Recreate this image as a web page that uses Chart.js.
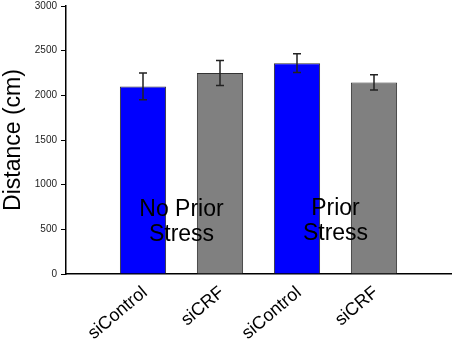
<!DOCTYPE html>
<html>
<head>
<meta charset="utf-8">
<script src="https://cdn.jsdelivr.net/npm/chart.js@4"></script>
<style>
    html, body { margin: 0; padding: 0; background: #fff; }
    #wrap { width: 454px; height: 345px; }
</style>
</head>
<body>
<div id="wrap"><canvas id="chart" width="454" height="345"></canvas></div>
<script>
// data
const categories = ['siControl', 'siCRF', 'siControl', 'siCRF'];
const distance = [2100, 2250, 2360, 2145];
const errors = [150, 140, 105, 85];
const barColors = ['#0000FF', '#808080', '#0000FF', '#808080'];
const yTicks = [0, 500, 1000, 1500, 2000, 2500, 3000];
const groupLabels = [
    { lines: ['No Prior', 'Stress'], between: [1, 2], y: [715, 435] },
    { lines: ['Prior', 'Stress'], between: [3, 4], y: [735, 455] }
];

const FONT = "'Liberation Sans', Arial, sans-serif";

// one empty slot on each side so bars sit at 1..4 of a 0..5 axis
const labels = [''].concat(categories, ['']);
const values = [null].concat(distance, [null]);
const colors = ['#fff'].concat(barColors, ['#fff']);

const errorBars = {
    id: 'errorBars',
    afterDatasetsDraw(chart) {
        const ctx = chart.ctx;
        const meta = chart.getDatasetMeta(0);
        const y = chart.scales.y;
        ctx.save();
        ctx.strokeStyle = '#222';
        ctx.lineWidth = 1.5;
        distance.forEach((v, i) => {
            const bar = meta.data[i + 1];
            const x = bar.x;
            const top = y.getPixelForValue(v + errors[i]);
            const bot = y.getPixelForValue(v - errors[i]);
            ctx.beginPath();
            ctx.moveTo(x, top); ctx.lineTo(x, bot);
            ctx.moveTo(x - 4, top); ctx.lineTo(x + 4, top);
            ctx.moveTo(x - 4, bot); ctx.lineTo(x + 4, bot);
            ctx.stroke();
        });
        ctx.restore();
    }
};

const groupText = {
    id: 'groupText',
    afterDraw(chart) {
        const ctx = chart.ctx;
        const xs = chart.scales.x, ys = chart.scales.y;
        ctx.save();
        ctx.fillStyle = '#000';
        ctx.font = '23px ' + FONT;
        ctx.textAlign = 'center';
        ctx.textBaseline = 'middle';
        groupLabels.forEach(g => {
            const x = (xs.getPixelForValue(g.between[0]) + xs.getPixelForValue(g.between[1])) / 2;
            g.lines.forEach((t, j) => ctx.fillText(t, x, ys.getPixelForValue(g.y[j])));
        });
        ctx.restore();
    }
};

new Chart(document.getElementById('chart'), {
    type: 'bar',
    data: {
        labels: labels,
        datasets: [{
            data: values,
            backgroundColor: colors,
            borderColor: '#333',
            borderWidth: 1,
            categoryPercentage: 1,
            barPercentage: 0.6
        }]
    },
    options: {
        responsive: false,
        animation: false,
        layout: { padding: { top: 6, right: 3, left: 0, bottom: 0 } },
        plugins: {
            legend: { display: false },
            tooltip: { enabled: false }
        },
        scales: {
            x: {
                offset: false,
                grid: { display: false, drawTicks: false },
                border: { display: true, color: '#000', width: 1.5 },
                ticks: {
                    color: '#000',
                    font: { family: FONT, size: 18 },
                    minRotation: 40,
                    maxRotation: 40,
                    autoSkip: false,
                    padding: 8,
                    labelOffset: 2
                },
                afterFit(scale) {
                    scale.height = 71;
                    scale.paddingLeft = 0;
                    scale.paddingRight = 0;
                }
            },
            y: {
                min: 0,
                max: 3000,
                afterBuildTicks(scale) { scale.ticks = yTicks.map(v => ({ value: v })); },
                grid: { drawOnChartArea: false, drawTicks: true, tickLength: 5, color: '#000' },
                border: { display: true, color: '#000', width: 1.5 },
                ticks: {
                    color: '#222',
                    font: { family: FONT, size: 10 },
                    padding: 4,
                    callback: v => String(v)
                },
                title: {
                    display: true,
                    text: 'Distance (cm)',
                    color: '#000',
                    font: { family: FONT, size: 23 },
                    padding: { top: 0, bottom: 2 }
                },
                afterFit(scale) {
                    scale.width = 66;
                    scale.paddingTop = 0;
                    scale.paddingBottom = 0;
                }
            }
        }
    },
    plugins: [errorBars, groupText]
});
</script>
</body>
</html>
